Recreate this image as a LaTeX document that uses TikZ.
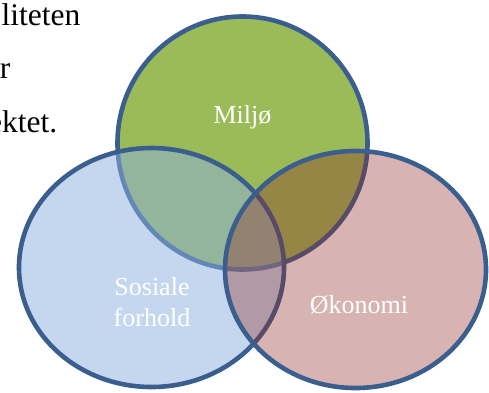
\documentclass[tikz,border=0pt]{standalone}
\usepackage{fontspec}
\setmainfont{Liberation Serif}
\usetikzlibrary{shapes.geometric}
\definecolor{rimblue}{HTML}{3A5F8F}
\definecolor{leafgreen}{HTML}{9BBB59}
\definecolor{skyblue}{HTML}{8DB1DF}
\definecolor{rustred}{HTML}{8F2620}
\tikzset{
  set/.style={ellipse, draw=rimblue, line width=4.6pt, inner sep=0pt},
  setlabel/.style={text=white, font=\fontsize{26}{31}\selectfont, anchor=base, inner sep=0pt},
  bodytext/.style={text=black, font=\fontsize{31.5}{36}\selectfont, anchor=base east, inner sep=0pt}
}
\begin{document}
\begin{tikzpicture}[x=1pt, y=-1pt]
  \clip (0,0) rectangle (489,392);
  \fill[white] (0,0) rectangle (489,392);
  % running text to the left of the figure
  \node[bodytext] (t1) at (80.5,25) {liteten};
  \node[bodytext] (t2) at (10.5,78.5) {r};
  \node[bodytext] (t3) at (57.5,132) {ektet.};
  % the three sets
  \node[set, fill=leafgreen, minimum width=250pt, minimum height=253pt] (env) at (242.5,143) {};
  \node[set, fill=skyblue, fill opacity=0.5, minimum width=265pt, minimum height=239pt] (soc) at (151.5,267.5) {};
  \node[set, fill=rustred, fill opacity=0.35, minimum width=261pt, minimum height=237pt] (eco) at (355.5,269.5) {};
  % labels
  \node[setlabel] (lenv) at (242.5,123) {Miljø};
  \node[setlabel] (lsoca) at (152,295) {Sosiale};
  \node[setlabel] (lsocb) at (152,326) {forhold};
  \node[setlabel] (leco) at (359,313) {Økonomi};
\end{tikzpicture}
\end{document}
